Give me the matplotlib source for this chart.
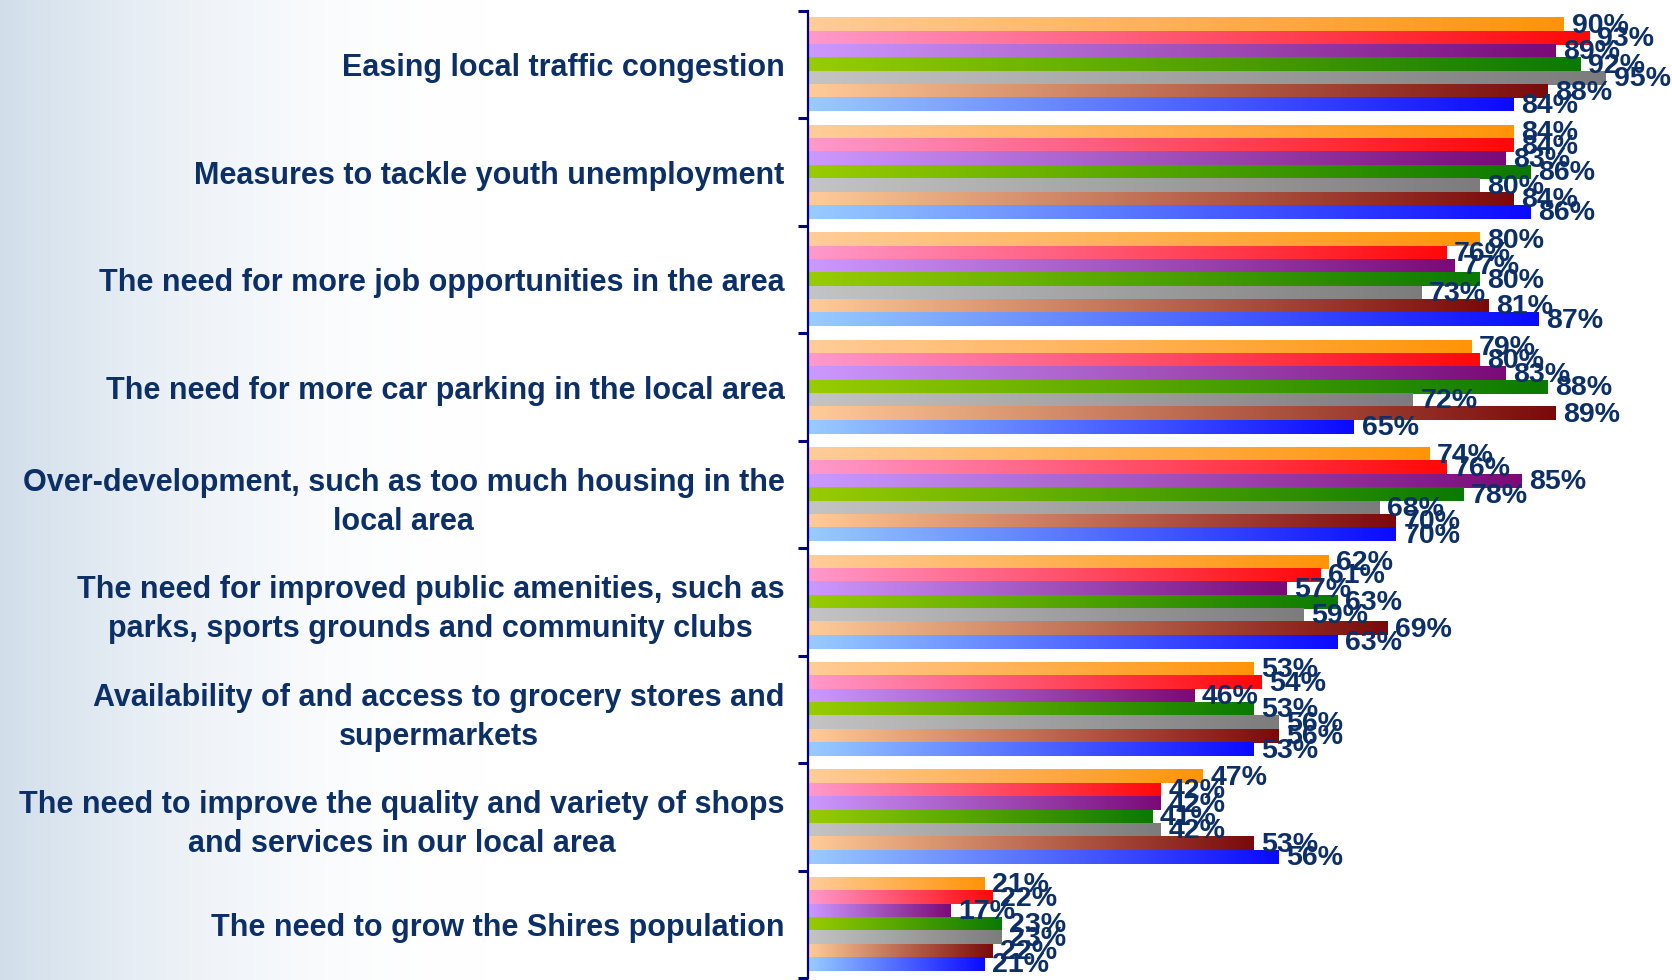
import numpy as np
import matplotlib
matplotlib.use('Agg')
import matplotlib.pyplot as plt
from matplotlib.colors import LinearSegmentedColormap

# issues, top to bottom
categories = [
    'Easing local traffic congestion',
    'Measures to tackle youth unemployment',
    'The need for more job opportunities in the area',
    'The need for more car parking in the local area',
    'Over-development, such as too much housing in the\nlocal area',
    'The need for improved public amenities, such as\nparks, sports grounds and community clubs',
    'Availability of and access to grocery stores and\nsupermarkets',
    'The need to improve the quality and variety of shops\nand services in our local area',
    'The need to grow the Shires population',
]

# % per group, one list per series (same order as categories)
series_1 = [90, 84, 80, 79, 74, 62, 53, 47, 21]
series_2 = [93, 84, 76, 80, 76, 61, 54, 42, 22]
series_3 = [89, 83, 77, 83, 85, 57, 46, 42, 17]
series_4 = [92, 86, 80, 88, 78, 63, 53, 41, 23]
series_5 = [95, 80, 73, 72, 68, 59, 56, 42, 23]
series_6 = [88, 84, 81, 89, 70, 69, 56, 53, 22]
series_7 = [84, 86, 87, 65, 70, 63, 53, 56, 21]
all_series = [series_1, series_2, series_3, series_4, series_5, series_6, series_7]

# light -> dark gradient for each series
fills = [
    ('#FFCC99', '#FF9408'),
    ('#FF99CC', '#FF0808'),
    ('#CC99FF', '#7A0A78'),
    ('#99CC00', '#0A7A00'),
    ('#C4C4C4', '#7C7C7C'),
    ('#FFCC99', '#7A0A0A'),
    ('#99CCFF', '#0A0AFF'),
]

navy = '#0B2F66'
axis_col = '#000080'

W, H = 1672, 980
fig = plt.figure(figsize=(W / 100, H / 100), dpi=100)

# soft blue-grey wash on the left of the slide
bg = fig.add_axes([0, 0, 1, 1])
bg.axis('off')
xx = np.linspace(0, 1, 800)
fade = np.clip(1 - xx / 0.29, 0, 1) ** 1.9
tint = np.array([0.82, 0.87, 0.92])
row = 1.0 - (1.0 - tint[None, :]) * fade[:, None]
img = np.repeat(row[None, :, :], 2, axis=0)
bg.imshow(img, extent=[0, 1, 0, 1], aspect='auto', zorder=0)
bg.set_xlim(0, 1)
bg.set_ylim(0, 1)

left = 808 / W
ax = fig.add_axes([left, 2 / H, 1 - left, (978 - 11) / H])
ax.patch.set_alpha(0)

n_cat = len(categories)
n_ser = len(all_series)
group = 0.87
h = group / n_ser
centers = np.arange(n_cat)

for j, vals in enumerate(all_series):
    ypos = centers - group / 2 + h * (j + 0.5)
    bars = ax.barh(ypos, vals, height=h, color='none', edgecolor='none', zorder=2)
    cmap = LinearSegmentedColormap.from_list(f's{j}', fills[j])
    grad = np.linspace(0, 1, 256).reshape(1, -1)
    for b, v in zip(bars, vals):
        x0, y0 = b.get_x(), b.get_y()
        ax.imshow(grad, cmap=cmap, aspect='auto', zorder=2,
                  extent=[x0, x0 + b.get_width(), y0 + b.get_height(), y0])
        ax.text(v + 0.9, y0 + b.get_height() / 2 + 0.01, f'{v}%', ha='left', va='center',
                fontsize=20.5, fontweight='bold', color=navy, zorder=3,
                family='Liberation Sans')

ax.set_xlim(0, (W - 808) / 8.4)
ax.set_ylim(n_cat - 0.5, -0.5)

ax.set_yticks(np.arange(n_cat + 1) - 0.5)
ax.set_yticklabels([])
ax.tick_params(axis='y', which='major', direction='out', length=7, width=2.2, color=axis_col)
ax.set_yticks(centers, minor=True)
ax.set_yticklabels(categories, minor=True, fontsize=22, fontweight='bold', color=navy,
                   family='Liberation Sans', multialignment='center', linespacing=1.38)
ax.tick_params(axis='y', which='minor', length=0, pad=17)
ax.xaxis.set_visible(False)
for s in ['top', 'right', 'bottom']:
    ax.spines[s].set_visible(False)
ax.spines['left'].set_color(axis_col)
ax.spines['left'].set_linewidth(1.6)

fig.savefig('out.png', dpi=100)
